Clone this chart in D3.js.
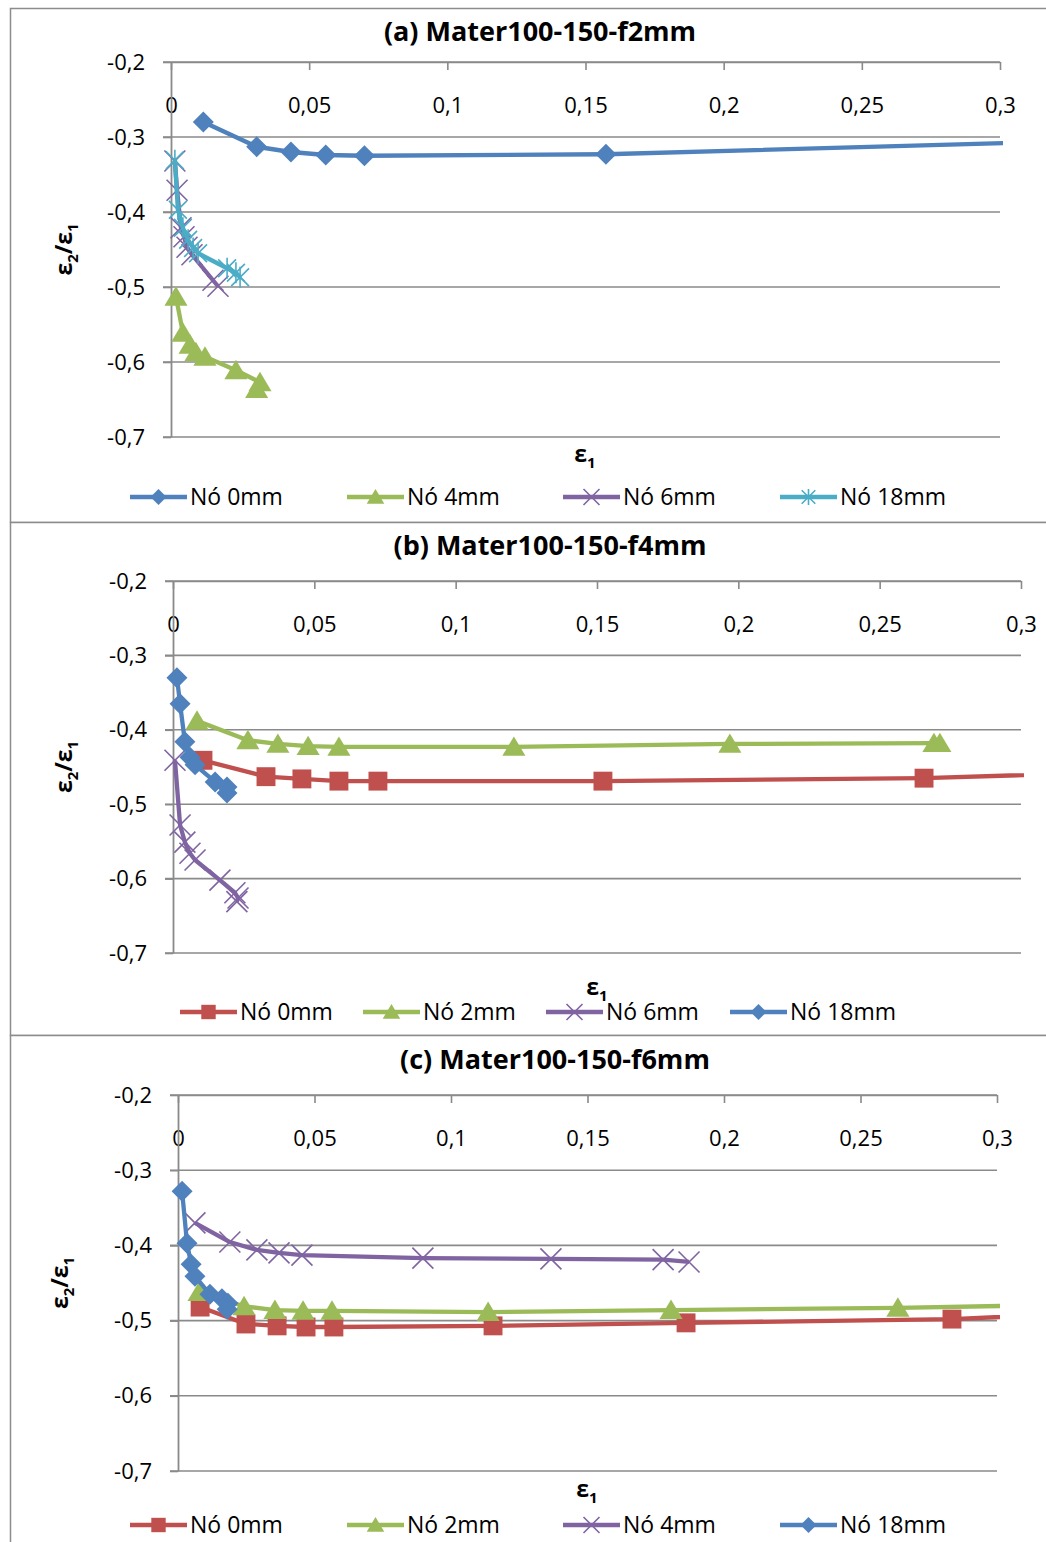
<!DOCTYPE html>
<html>
<head>
<meta charset="utf-8">
<script src="https://cdn.jsdelivr.net/npm/d3@7"></script>
<style>
body { margin: 0; background: #fff; }
svg text { font-family: "Open Sans", sans-serif; fill: #000; }
</style>
</head>
<body>
<div id="chart"></div>
<script>
var xTicks = [0, 0.05, 0.1, 0.15, 0.2, 0.25, 0.3];
var xTickLabels = ['0', '0,05', '0,1', '0,15', '0,2', '0,25', '0,3'];
var yTicks = [-0.2, -0.3, -0.4, -0.5, -0.6, -0.7];
var yTickLabels = ['-0,2', '-0,3', '-0,4', '-0,5', '-0,6', '-0,7'];

var titles = ['(a) Mater100-150-f2mm', '(b) Mater100-150-f4mm', '(c) Mater100-150-f6mm'];

// (a) f2mm  [eps1, eps2/eps1]
var a_no0 = [[0.0117, -0.280], [0.031, -0.313], [0.0434, -0.320], [0.056, -0.324], [0.070, -0.325], [0.1574, -0.323], [0.35, -0.303]];
var a_no4 = [[0.0018, -0.513], [0.0043, -0.561], [0.0069, -0.577], [0.009, -0.587], [0.0123, -0.593], [0.0235, -0.611], [0.0322, -0.627], [0.031, -0.636]];
var a_no6 = [[0.0014, -0.332], [0.0022, -0.371], [0.0036, -0.421], [0.0047, -0.433], [0.0058, -0.447], [0.0076, -0.457], [0.0152, -0.491], [0.017, -0.499]];
var a_no18 = [[0.0014, -0.331], [0.0025, -0.397], [0.0043, -0.421], [0.0062, -0.437], [0.008, -0.448], [0.0098, -0.455], [0.0203, -0.475], [0.0235, -0.481], [0.025, -0.487]];

// (b) f4mm
var b_no0 = [[0.0106, -0.441], [0.0329, -0.463], [0.0456, -0.466], [0.0587, -0.469], [0.0725, -0.469], [0.1521, -0.469], [0.2657, -0.465], [0.35, -0.455]];
var b_no2 = [[0.0085, -0.388], [0.0265, -0.414], [0.0371, -0.419], [0.0478, -0.422], [0.0587, -0.423], [0.1206, -0.423], [0.197, -0.419], [0.2692, -0.418], [0.2713, -0.418]];
var b_no6 = [[0.0007, -0.441], [0.0025, -0.528], [0.0042, -0.551], [0.006, -0.566], [0.0078, -0.575], [0.0166, -0.602], [0.0219, -0.619], [0.023, -0.626], [0.0226, -0.631]];
var b_no18 = [[0.0014, -0.330], [0.0025, -0.365], [0.0042, -0.416], [0.006, -0.437], [0.0078, -0.447], [0.0149, -0.470], [0.0191, -0.477], [0.0191, -0.485]];

// (c) f6mm
var c_no0 = [[0.0081, -0.482], [0.0249, -0.5045], [0.0363, -0.507], [0.0469, -0.5085], [0.0571, -0.5085], [0.1154, -0.507], [0.1861, -0.503], [0.2835, -0.498], [0.35, -0.4875]];
var c_no2 = [[0.0077, -0.462], [0.0242, -0.481], [0.0355, -0.486], [0.0458, -0.487], [0.0564, -0.487], [0.1136, -0.4886], [0.1806, -0.486], [0.2637, -0.483], [0.35, -0.4774]];
var c_no4 = [[0.0062, -0.370], [0.019, -0.3955], [0.0289, -0.406], [0.037, -0.410], [0.0454, -0.413], [0.0897, -0.417], [0.1366, -0.418], [0.1777, -0.419], [0.1872, -0.422]];
var c_no18 = [[0.0015, -0.328], [0.0033, -0.397], [0.0048, -0.425], [0.0062, -0.441], [0.0117, -0.465], [0.0161, -0.471], [0.0183, -0.477], [0.018, -0.485]];

var blue = '#4F81BD', red = '#C0504D', green = '#9BBB59', purple = '#8064A2', cyan = '#4BACC6';
var gridColor = '#8a8a8a';

var panels = [
    {
        title: titles[0], top: 8, bottom: 522, titleX: 540, titleY: 32,
        left: 171, right: 1000, plotTop: 62, plotBottom: 437,
        xLabel: [585, 462], yLabelX: 72, legendY: 497, legendX: [130, 347, 563, 780],
        series: [
            {name: 'Nó 0mm', data: a_no0, color: blue, marker: 'diamond'},
            {name: 'Nó 4mm', data: a_no4, color: green, marker: 'triangle'},
            {name: 'Nó 6mm', data: a_no6, color: purple, marker: 'x'},
            {name: 'Nó 18mm', data: a_no18, color: cyan, marker: 'star'}
        ]
    },
    {
        title: titles[1], top: 522, bottom: 1035, titleX: 550, titleY: 546,
        left: 173, right: 1021, plotTop: 581, plotBottom: 953,
        xLabel: [597, 995], yLabelX: 72, legendY: 1012, legendX: [180, 363, 546, 730],
        series: [
            {name: 'Nó 0mm', data: b_no0, color: red, marker: 'square'},
            {name: 'Nó 2mm', data: b_no2, color: green, marker: 'triangle'},
            {name: 'Nó 6mm', data: b_no6, color: purple, marker: 'x'},
            {name: 'Nó 18mm', data: b_no18, color: blue, marker: 'diamond'}
        ]
    },
    {
        title: titles[2], top: 1035, bottom: 1560, titleX: 555, titleY: 1060,
        left: 178, right: 997, plotTop: 1095, plotBottom: 1471,
        xLabel: [587, 1497], yLabelX: 68, legendY: 1525, legendX: [130, 347, 563, 780],
        series: [
            {name: 'Nó 0mm', data: c_no0, color: red, marker: 'square'},
            {name: 'Nó 2mm', data: c_no2, color: green, marker: 'triangle'},
            {name: 'Nó 4mm', data: c_no4, color: purple, marker: 'x'},
            {name: 'Nó 18mm', data: c_no18, color: blue, marker: 'diamond'}
        ]
    }
];

var svg = d3.select('#chart').append('svg')
    .attr('width', 1046)
    .attr('height', 1542);

function drawMarker(g, type, color, s) {
    if (type === 'diamond') {
        g.append('path')
            .attr('d', 'M0,' + (-s) + 'L' + s + ',0L0,' + s + 'L' + (-s) + ',0Z')
            .attr('fill', color);
    } else if (type === 'square') {
        g.append('rect')
            .attr('x', -s * 0.9).attr('y', -s * 0.9)
            .attr('width', s * 1.8).attr('height', s * 1.8)
            .attr('fill', color);
    } else if (type === 'triangle') {
        g.append('path')
            .attr('d', 'M0,' + (-s) + 'L' + (s * 1.1) + ',' + (s * 0.85) + 'L' + (-s * 1.1) + ',' + (s * 0.85) + 'Z')
            .attr('fill', color);
    } else if (type === 'x') {
        g.append('path')
            .attr('d', 'M' + (-s) + ',' + (-s) + 'L' + s + ',' + s + 'M' + s + ',' + (-s) + 'L' + (-s) + ',' + s)
            .attr('stroke', color).attr('stroke-width', 1.6).attr('fill', 'none');
    } else if (type === 'star') {
        var k = s * 0.85;
        g.append('path')
            .attr('d', 'M' + (-k) + ',' + (-k) + 'L' + k + ',' + k + 'M' + k + ',' + (-k) + 'L' + (-k) + ',' + k +
                'M0,' + (-s) + 'L0,' + s)
            .attr('stroke', color).attr('stroke-width', 1.6).attr('fill', 'none');
    }
}

// epsilon labels with subscripts
function epsText(t, parts) {
    var shift = 0;
    parts.forEach(function (p) {
        var ts = t.append('tspan').text(p.t);
        if (p.sub) {
            ts.attr('font-size', 15).attr('dy', 6 - shift);
            shift = 6;
        } else {
            ts.attr('dy', -shift);
            shift = 0;
        }
    });
}

panels.forEach(function (p, pi) {
    var g = svg.append('g');

    // chart frame
    g.append('rect')
        .attr('x', 10.5).attr('y', p.top + 0.5)
        .attr('width', 1100).attr('height', p.bottom - p.top)
        .attr('fill', '#fff')
        .attr('stroke', '#8c8c8c').attr('stroke-width', 1.5);

    var x = d3.scaleLinear().domain([0, 0.3]).range([p.left, p.right]);
    var y = d3.scaleLinear().domain([-0.2, -0.7]).range([p.plotTop, p.plotBottom]);

    // gridlines
    g.append('g').selectAll('line')
        .data(yTicks)
        .enter().append('line')
            .attr('x1', p.left - 8).attr('x2', p.right)
            .attr('y1', function (d) { return y(d); })
            .attr('y2', function (d) { return y(d); })
            .attr('stroke', gridColor).attr('stroke-width', 1.6);

    // x axis along the top (-0,2)
    var xAxis = g.append('g')
        .attr('transform', 'translate(0,' + p.plotTop + ')')
        .call(d3.axisBottom(x).tickValues(xTicks)
            .tickFormat(function (d, i) { return xTickLabels[i]; })
            .tickSize(8).tickSizeOuter(0).tickPadding(27));
    xAxis.selectAll('line').attr('stroke', gridColor).attr('stroke-width', 1.6);
    xAxis.select('.domain').attr('stroke', gridColor).attr('stroke-width', 1.6);
    xAxis.selectAll('text').attr('font-size', 22).attr('font-family', '"Open Sans", sans-serif').attr('fill', '#000');

    // y axis
    var yAxis = g.append('g')
        .attr('transform', 'translate(' + p.left + ',0)')
        .call(d3.axisLeft(y).tickValues(yTicks)
            .tickFormat(function (d, i) { return yTickLabels[i]; })
            .tickSize(8).tickSizeOuter(0).tickPadding(18));
    yAxis.selectAll('line').attr('stroke', gridColor).attr('stroke-width', 1.6);
    yAxis.select('.domain').attr('stroke', gridColor).attr('stroke-width', 1.8);
    yAxis.selectAll('text').attr('font-size', 22).attr('font-family', '"Open Sans", sans-serif').attr('fill', '#000');

    // clip for series extending past 0,3
    var clipId = 'clip' + pi;
    g.append('clipPath').attr('id', clipId)
        .append('rect')
            .attr('x', p.left - 20).attr('y', p.plotTop - 20)
            .attr('width', p.right - p.left + 23).attr('height', p.plotBottom - p.plotTop + 40);

    var line = d3.line()
        .x(function (d) { return x(d[0]); })
        .y(function (d) { return y(d[1]); });

    var plot = g.append('g').attr('clip-path', 'url(#' + clipId + ')');
    p.series.forEach(function (s) {
        plot.append('path')
            .datum(s.data)
            .attr('d', line)
            .attr('fill', 'none')
            .attr('stroke', s.color)
            .attr('stroke-width', 4.3)
            .attr('stroke-linejoin', 'round');
        plot.selectAll(null)
            .data(s.data)
            .enter().append('g')
                .attr('transform', function (d) { return 'translate(' + x(d[0]) + ',' + y(d[1]) + ')'; })
                .each(function () { drawMarker(d3.select(this), s.marker, s.color, 10.5); });
    });

    // title
    g.append('text')
        .attr('x', p.titleX).attr('y', p.titleY)
        .attr('dy', '0.35em')
        .attr('text-anchor', 'middle')
        .attr('font-size', 27).attr('font-weight', 'bold')
        .text(p.title);

    // axis titles
    var xl = g.append('text')
        .attr('x', p.xLabel[0]).attr('y', p.xLabel[1])
        .attr('dy', '0.3em')
        .attr('text-anchor', 'middle')
        .attr('font-size', 23).attr('font-weight', 'bold');
    epsText(xl, [{t: 'ε'}, {t: '1', sub: true}]);

    var yl = g.append('text')
        .attr('transform', 'translate(' + p.yLabelX + ',' + ((p.plotTop + p.plotBottom) / 2) + ') rotate(-90)')
        .attr('dy', '0.3em')
        .attr('text-anchor', 'middle')
        .attr('font-size', 23).attr('font-weight', 'bold');
    epsText(yl, [{t: 'ε'}, {t: '2', sub: true}, {t: '/ε'}, {t: '1', sub: true}]);

    // legend
    var leg = g.append('g').selectAll('g')
        .data(p.series)
        .enter().append('g')
            .attr('transform', function (d, i) { return 'translate(' + p.legendX[i] + ',' + p.legendY + ')'; });
    leg.append('line')
        .attr('x1', 0).attr('x2', 57)
        .attr('stroke', function (d) { return d.color; })
        .attr('stroke-width', 4.3);
    leg.append('g')
        .attr('transform', 'translate(28.5,0)')
        .each(function (d) { drawMarker(d3.select(this), d.marker, d.color, 8); });
    leg.append('text')
        .attr('x', 60).attr('dy', '0.36em')
        .attr('font-size', 23)
        .text(function (d) { return d.name; });
});
</script>
</body>
</html>
